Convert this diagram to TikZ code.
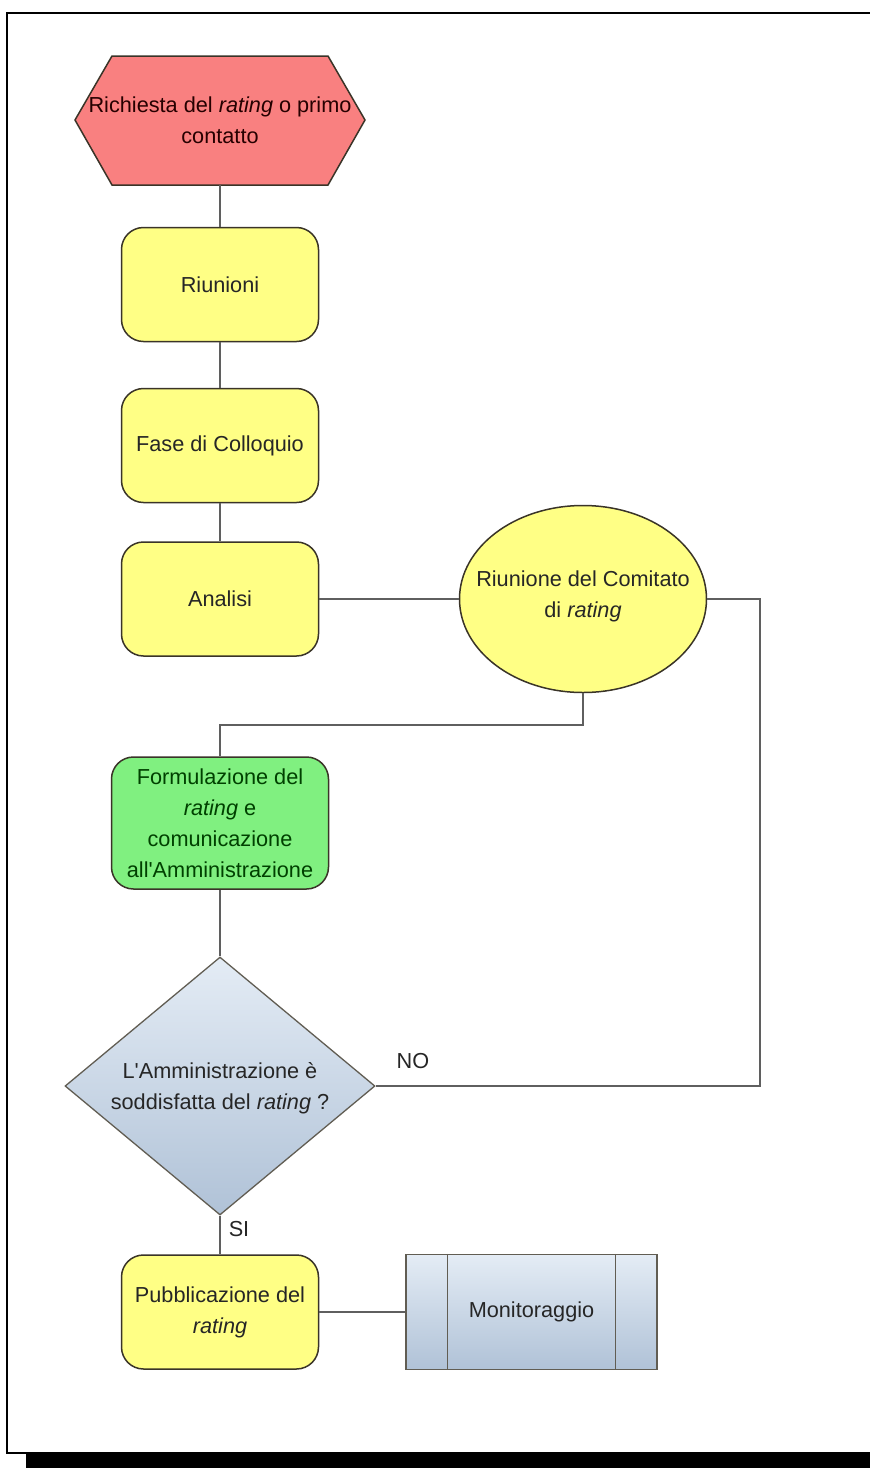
\documentclass[tikz,border=0pt]{standalone}
\usepackage{fontspec}
\setmainfont{Liberation Sans}
\usetikzlibrary{shapes.geometric}
\definecolor{yel}{RGB}{255,255,133}
\definecolor{redf}{RGB}{249,128,128}
\definecolor{grn}{RGB}{128,240,128}
\definecolor{bluetop}{RGB}{228,236,245}
\definecolor{bluebot}{RGB}{176,194,215}
\definecolor{edge}{RGB}{58,52,40}
\definecolor{conn}{RGB}{95,95,95}
\begin{document}
\begin{tikzpicture}[x=1pt,y=-1pt,
  every node/.style={font=\fontsize{21.7}{31}\selectfont, align=center, text=black!85},
  box/.style={draw=edge, line width=1.5pt, rounded corners=22pt, fill=yel,
    minimum width=197pt, minimum height=114pt, inner sep=0pt},
  bluebox/.style={draw=edge!80, line width=1.3pt, top color=bluetop, bottom color=bluebot},
  link/.style={draw=conn, line width=1.4pt}]
\useasboundingbox (0,0) rectangle (870,1468);
\fill[white] (0,0) rectangle (870,1468);
% frame
\draw[line width=2.5pt] (870,13) -- (7,13) -- (7,1453) -- (870,1453);
\fill[black] (26,1453) rectangle (870,1468);
% hexagon
\filldraw[fill=redf, draw=edge, line width=1.5pt]
  (112,56) -- (328,56) -- (365,120) -- (328,185) -- (112,185) -- (75,120) -- cycle;
\node[minimum width=290pt, minimum height=129pt, inner sep=0pt, text=black!75!red!60!black] (hex) at (220,120.5)
  {Richiesta del \textit{rating} o primo\\contatto};
% process boxes
\node[box] (riu) at (220,284.5) {Riunioni};
\node[box] (fase) at (220,445.5) {Fase di Colloquio};
\node[box] (ana) at (220,599) {Analisi};
% ellipse
\node[ellipse, draw=edge, line width=1.5pt, fill=yel, minimum width=247pt,
  minimum height=187pt, inner sep=0pt] (ell) at (583,599) {};
\node (elltxt) at (583,596) {Riunione del Comitato\\di \textit{rating}};
% green box
\node[box, fill=grn, minimum width=217pt, minimum height=132pt, text=green!25!black] (form) at (220,823)
  {Formulazione del\\\textit{rating} e\\comunicazione\\all\textquotesingle Amministrazione};
% decision
\node[diamond, bluebox, minimum width=310pt, minimum height=258pt, inner sep=0pt] (dec) at (220,1086) {};
\node (dectxt) at (220,1088) {L\textquotesingle Amministrazione è\\soddisfatta del \textit{rating} ?};
% publication
\node[box] (pub) at (220,1312) {Pubblicazione del\\\textit{rating}};
% monitoring
\node[bluebox, minimum width=251pt, minimum height=115pt, inner sep=0pt] (mon) at (531.5,1312) {Monitoraggio};
\draw[draw=edge!80, line width=1.3pt] ([xshift=42pt]mon.north west) -- ([xshift=42pt]mon.south west);
\draw[draw=edge!80, line width=1.3pt] ([xshift=-42pt]mon.north east) -- ([xshift=-42pt]mon.south east);
% connectors
\coordinate (j1) at (583,725);
\coordinate (j2) at (760,599);
\path[link] (hex.south) -- (riu.north);
\path[link] (riu.south) -- (fase.north);
\path[link] (fase.south) -- (ana.north);
\path[link] (ana.east) -- (ell.west);
\path[link] (ell.south) -- (j1) -| (form.north);
\path[link] (form.south) -- (dec.north);
\path[link] (ell.east) -- (j2) |- (dec.east);
\path[link] (dec.south) -- (pub.north);
\path[link] (pub.east) -- (mon.west);
% labels
\node (no) at (413,1061) {NO};
\node (si) at (239,1229) {SI};
\end{tikzpicture}
\end{document}
